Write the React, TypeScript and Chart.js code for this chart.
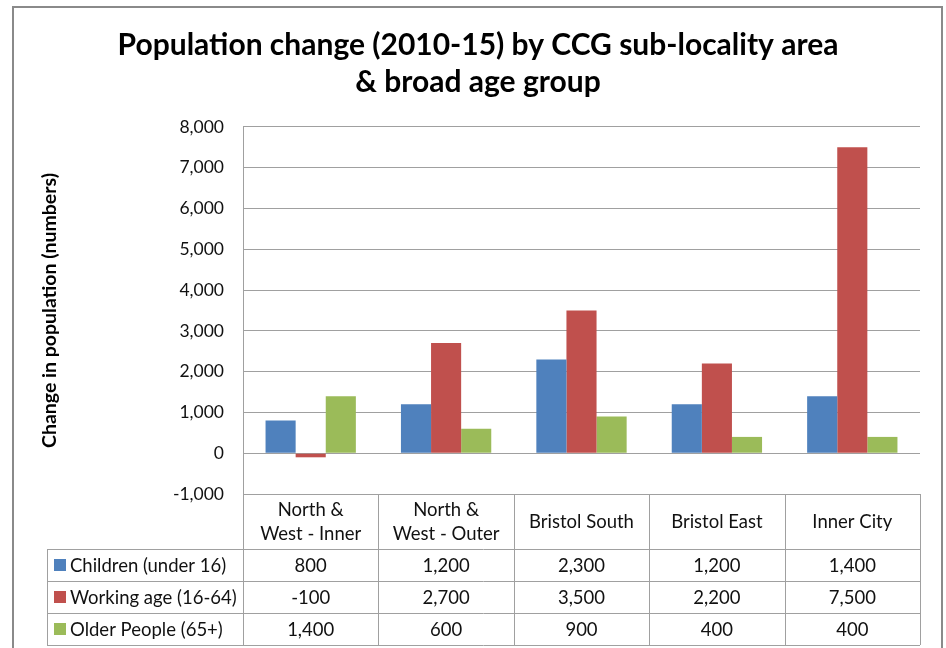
import React, { useEffect, useRef } from "react";
import { Chart, registerables } from "chart.js";

Chart.register(...registerables);

const TITLE_LINES = ["Population change (2010-15) by CCG sub-locality area", "& broad age group"];
const Y_TITLE = "Change in population (numbers)";
const CATEGORIES = [["North &", "West - Inner"], ["North &", "West - Outer"], "Bristol South", "Bristol East", "Inner City"];
const SERIES_NAMES = ["Children (under 16)", "Working age (16-64)", "Older People (65+)"];
const CHILDREN = [800, 1200, 2300, 1200, 1400];
const WORKING = [-100, 2700, 3500, 2200, 7500];
const OLDER = [1400, 600, 900, 400, 400];
const SERIES_COLORS = ["#4F81BD", "#C0504D", "#9BBB59"];
const Y_MIN = -1000;
const Y_MAX = 8000;
const Y_STEP = 1000;

const FONT = "Lato";
const LINE = "#a0a0a0";
const TEXT = "#111";
const fmt = (v: number) => v.toLocaleString("en-US");

const tablePlugin = {
  id: "dataTable",
  afterDraw(chart: any) {
    const { ctx, chartArea, scales } = chart;
    const x = scales.x;
    const n = chart.data.labels.length;
    const step = x.getPixelForValue(1) - x.getPixelForValue(0);
    const left = x.getPixelForValue(0) - step / 2;
    const right = x.getPixelForValue(n - 1) + step / 2;
    const top = chartArea.bottom;
    const headerH = 55;
    const rowH = 32;
    const legendLeft = 47;
    const rows = chart.data.datasets.length;
    const bottom = top + headerH + rows * rowH;
    ctx.save();
    ctx.strokeStyle = LINE;
    ctx.lineWidth = 1;
    ctx.beginPath();
    const px = (v: number) => Math.round(v) + 0.5;
    ctx.moveTo(left, px(top));
    ctx.lineTo(right, px(top));
    for (let r = 0; r <= rows; r++) {
      const yy = px(top + headerH + r * rowH);
      ctx.moveTo(legendLeft, yy);
      ctx.lineTo(right, yy);
    }
    for (let i = 0; i <= n; i++) {
      const xx = px(left + i * step);
      ctx.moveTo(xx, top);
      ctx.lineTo(xx, bottom);
    }
    ctx.moveTo(px(legendLeft), top + headerH);
    ctx.lineTo(px(legendLeft), bottom);
    ctx.stroke();

    ctx.font = `18.5px ${FONT}`;
    ctx.textBaseline = "middle";
    chart.data.datasets.forEach((ds: any, r: number) => {
      const cy = top + headerH + r * rowH + rowH / 2;
      ctx.fillStyle = ds.backgroundColor;
      ctx.fillRect(54, Math.round(cy - 6), 12, 12);
      ctx.fillStyle = TEXT;
      ctx.textAlign = "left";
      ctx.fillText(ds.label, 70, cy + 1);
      ctx.textAlign = "center";
      ds.data.forEach((v: number, i: number) => {
        ctx.fillText(fmt(v), x.getPixelForValue(i), cy + 1);
      });
    });

    // outer chart border
    ctx.strokeStyle = "#8a8a8a";
    ctx.lineWidth = 2;
    ctx.strokeRect(13, 7, 929, 700);
    ctx.restore();
  },
};

export default function App() {
  const ref = useRef<HTMLCanvasElement>(null);
  useEffect(() => {
    const chart = new Chart(ref.current as HTMLCanvasElement, {
      type: "bar",
      data: {
        labels: CATEGORIES as any,
        datasets: [
          { label: SERIES_NAMES[0], data: CHILDREN, backgroundColor: SERIES_COLORS[0] },
          { label: SERIES_NAMES[1], data: WORKING, backgroundColor: SERIES_COLORS[1] },
          { label: SERIES_NAMES[2], data: OLDER, backgroundColor: SERIES_COLORS[2] },
        ],
      },
      options: {
        responsive: false,
        animation: false,
        layout: { padding: { left: 36, right: 26, top: 0, bottom: 0 } },
        datasets: { bar: { categoryPercentage: 0.667, barPercentage: 1, borderWidth: 0 } },
        plugins: {
          legend: { display: false },
          tooltip: { enabled: false },
          title: {
            display: true,
            text: TITLE_LINES,
            color: "#000",
            font: { family: FONT, size: 30, weight: "bold", lineHeight: 1.233 },
            padding: { top: 27, bottom: 26 },
          },
        },
        scales: {
          x: {
            grid: { display: false, drawTicks: false },
            border: { display: false },
            ticks: {
              color: TEXT,
              font: { family: FONT, size: 18.5, lineHeight: 1.3 },
              padding: 16,
              maxRotation: 0,
              autoSkip: false,
              crossAlign: "center",
            },
            afterFit: (s: any) => {
              s.height = 154;
            },
          },
          y: {
            min: Y_MIN,
            max: Y_MAX,
            ticks: {
              stepSize: Y_STEP,
              color: TEXT,
              font: { family: FONT, size: 17.5 },
              padding: 19,
              callback: (v: any) => fmt(Number(v)),
            },
            grid: { color: LINE, drawTicks: false },
            border: { display: true, color: LINE },
            title: {
              display: true,
              text: Y_TITLE,
              color: "#000",
              font: { family: FONT, size: 19.5, weight: "bold" },
              padding: { top: 2, bottom: 0 },
            },
            afterFit: (s: any) => {
              s.width = 207;
            },
          },
        },
      } as any,
      plugins: [tablePlugin],
    });
    return () => chart.destroy();
  }, []);
  return (
    <div style={{ position: "fixed", left: 0, top: 0, width: 946, height: 648, background: "#fff" }}>
      <canvas ref={ref} width={946} height={648} />
    </div>
  );
}
